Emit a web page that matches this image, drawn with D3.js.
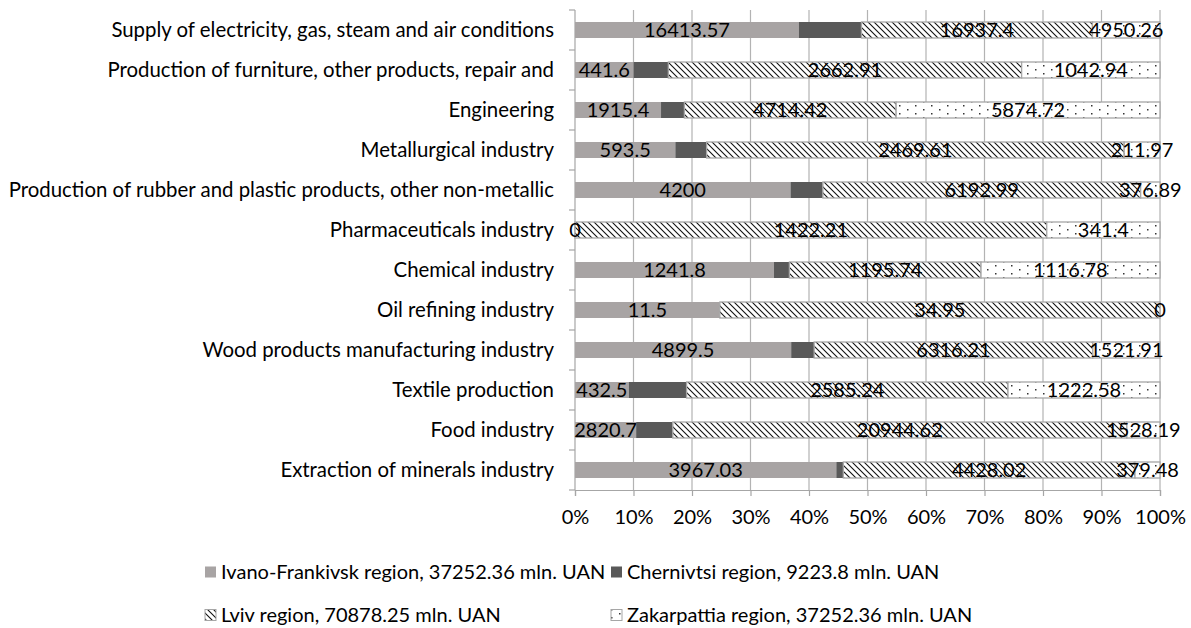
<!DOCTYPE html>
<html><head><meta charset="utf-8">
<script src="https://cdn.jsdelivr.net/npm/d3@7"></script>
<style>
html,body{margin:0;padding:0;background:#fff;}
svg text{font-family:Lato,"Open Sans",sans-serif;fill:#000;}
</style></head>
<body><svg id="chart" width="1191" height="628"></svg>
<script>
const categories = [
  "Supply of electricity, gas, steam and air conditions",
  "Production of furniture, other products, repair and",
  "Engineering",
  "Metallurgical industry",
  "Production of rubber and plastic products, other non-metallic",
  "Pharmaceuticals industry",
  "Chemical industry",
  "Oil refining industry",
  "Wood products manufacturing industry",
  "Textile production",
  "Food industry",
  "Extraction of minerals industry"
];
const ivanoFrankivsk = [16413.57, 441.6, 1915.4, 593.5, 4200, 0, 1241.8, 11.5, 4899.5, 432.5, 2820.7, 3967.03];
const chernivtsi     = [4590, 262, 520, 185, 630, 0, 96, 0, 520, 465, 1690, 106];
const lviv           = [16937.4, 2662.91, 4714.42, 2469.61, 6192.99, 1422.21, 1195.74, 34.95, 6316.21, 2585.24, 20944.62, 4428.02];
const zakarpattia    = [4950.26, 1042.94, 5874.72, 211.97, 376.89, 341.4, 1116.78, 0, 1521.91, 1222.58, 1528.19, 379.48];
const seriesNames = [
  "Ivano-Frankivsk region, 37252.36 mln. UAN",
  "Chernivtsi region, 9223.8 mln. UAN",
  "Lviv region, 70878.25 mln. UAN",
  "Zakarpattia region, 37252.36 mln. UAN"
];
const tickValues = [0,0.1,0.2,0.3,0.4,0.5,0.6,0.7,0.8,0.9,1];

const keys = ["if","ch","lv","zk"];
const rows = categories.map((c,i)=>({cat:c, if:ivanoFrankivsk[i], ch:chernivtsi[i], lv:lviv[i], zk:zakarpattia[i]}));
const stack = d3.stack().keys(keys).offset(d3.stackOffsetExpand);
const series = stack(rows);

const svg = d3.select("#chart");
const defs = svg.append("defs");
const hatch = defs.append("pattern").attr("id","hatch").attr("patternUnits","userSpaceOnUse")
  .attr("width",6).attr("height",6);
hatch.append("rect").attr("width",6).attr("height",6).attr("fill","#fff");
hatch.append("path").attr("d","M-1,-1 L7,7 M-1,5 L1,7 M5,-1 L7,1").attr("stroke","#111").attr("stroke-width",1.1);
const dots = defs.append("pattern").attr("id","dots").attr("patternUnits","userSpaceOnUse")
  .attr("width",16).attr("height",8);
dots.append("rect").attr("width",16).attr("height",8).attr("fill","#fff");
dots.append("rect").attr("x",3).attr("y",1).attr("width",1.5).attr("height",1.5).attr("fill","#333");
dots.append("rect").attr("x",11).attr("y",5).attr("width",1.5).attr("height",1.5).attr("fill","#333");

const fills = {if:"#a8a4a4", ch:"#595959", lv:"url(#hatch)", zk:"url(#dots)"};
const strokes = {if:"none", ch:"none", lv:"#a6a6a6", zk:"#a6a6a6"};

const x = d3.scaleLinear().domain([0,1]).range([575,1160]);
const y = d3.scaleBand().domain(categories).range([10,490]).paddingInner(0.6).paddingOuter(0.3);

// gridlines
svg.append("g").selectAll("line").data(tickValues.slice(1)).join("line")
  .attr("x1",d=>x(d)).attr("x2",d=>x(d)).attr("y1",10).attr("y2",490)
  .attr("stroke","#b3b3b3").attr("stroke-width",1.2);

// x axis
const xAxis = d3.axisBottom(x).tickValues(tickValues).tickFormat(d3.format(".0%")).tickSize(6).tickPadding(14);
const gx = svg.append("g").attr("transform","translate(0,490)").call(xAxis);
gx.select(".domain").attr("stroke","#a6a6a6").attr("stroke-width",1.2);
gx.selectAll(".tick line").attr("stroke","#a6a6a6").attr("stroke-width",1.2);
gx.selectAll("text").attr("font-size",20).attr("fill","#000").style("font-family","Lato");

// y axis (band boundaries ticks)
const gy = svg.append("g");
gy.append("line").attr("x1",575).attr("x2",575).attr("y1",10).attr("y2",490).attr("stroke","#a6a6a6").attr("stroke-width",1.2);
const bounds = d3.range(categories.length+1).map(i=>10 + i*y.step());
gy.selectAll("line.t").data(bounds).join("line").attr("class","t")
  .attr("x1",569).attr("x2",575).attr("y1",d=>d).attr("y2",d=>d).attr("stroke","#a6a6a6").attr("stroke-width",1.2);
gy.selectAll("text").data(categories).join("text")
  .attr("x",554).attr("y",d=>y(d)+y.bandwidth()/2).attr("dy","0.35em")
  .attr("text-anchor","end").attr("font-size",20.4).text(d=>d);

// bars
const gb = svg.append("g");
series.forEach(s=>{
  gb.append("g").selectAll("rect").data(s).join("rect")
    .attr("x",d=>x(d[0])).attr("width",d=>Math.max(0,x(d[1])-x(d[0])))
    .attr("y",d=>y(d.data.cat)).attr("height",y.bandwidth())
    .attr("fill",fills[s.key]).attr("stroke",strokes[s.key]).attr("stroke-width",1.3);
});
// labels
const labelled = ["if","lv","zk"];
series.filter(s=>labelled.includes(s.key)).forEach(s=>{
  gb.append("g").selectAll("text").data(s).join("text")
    .attr("x",d=>x((d[0]+d[1])/2)).attr("y",d=>y(d.data.cat)+y.bandwidth()/2).attr("dy","0.35em")
    .attr("text-anchor","middle").attr("font-size",20)
    .text(d=>String(d.data[s.key]));
});

// legend
const legendItems = [
  {k:"if", x:205, y:572}, {k:"ch", x:611, y:572},
  {k:"lv", x:205, y:615}, {k:"zk", x:611, y:615}
];
const gl = svg.append("g");
legendItems.forEach((it,i)=>{
  gl.append("rect").attr("x",it.x).attr("y",it.y-5.5).attr("width",11).attr("height",11)
    .attr("fill",fills[it.k]).attr("stroke",it.k==="if"||it.k==="ch"?"none":"#a6a6a6").attr("stroke-width",1);
  gl.append("text").attr("x",it.x+16).attr("y",it.y).attr("dy","0.35em").attr("font-size",20).text(seriesNames[i]);
});
</script></body></html>
